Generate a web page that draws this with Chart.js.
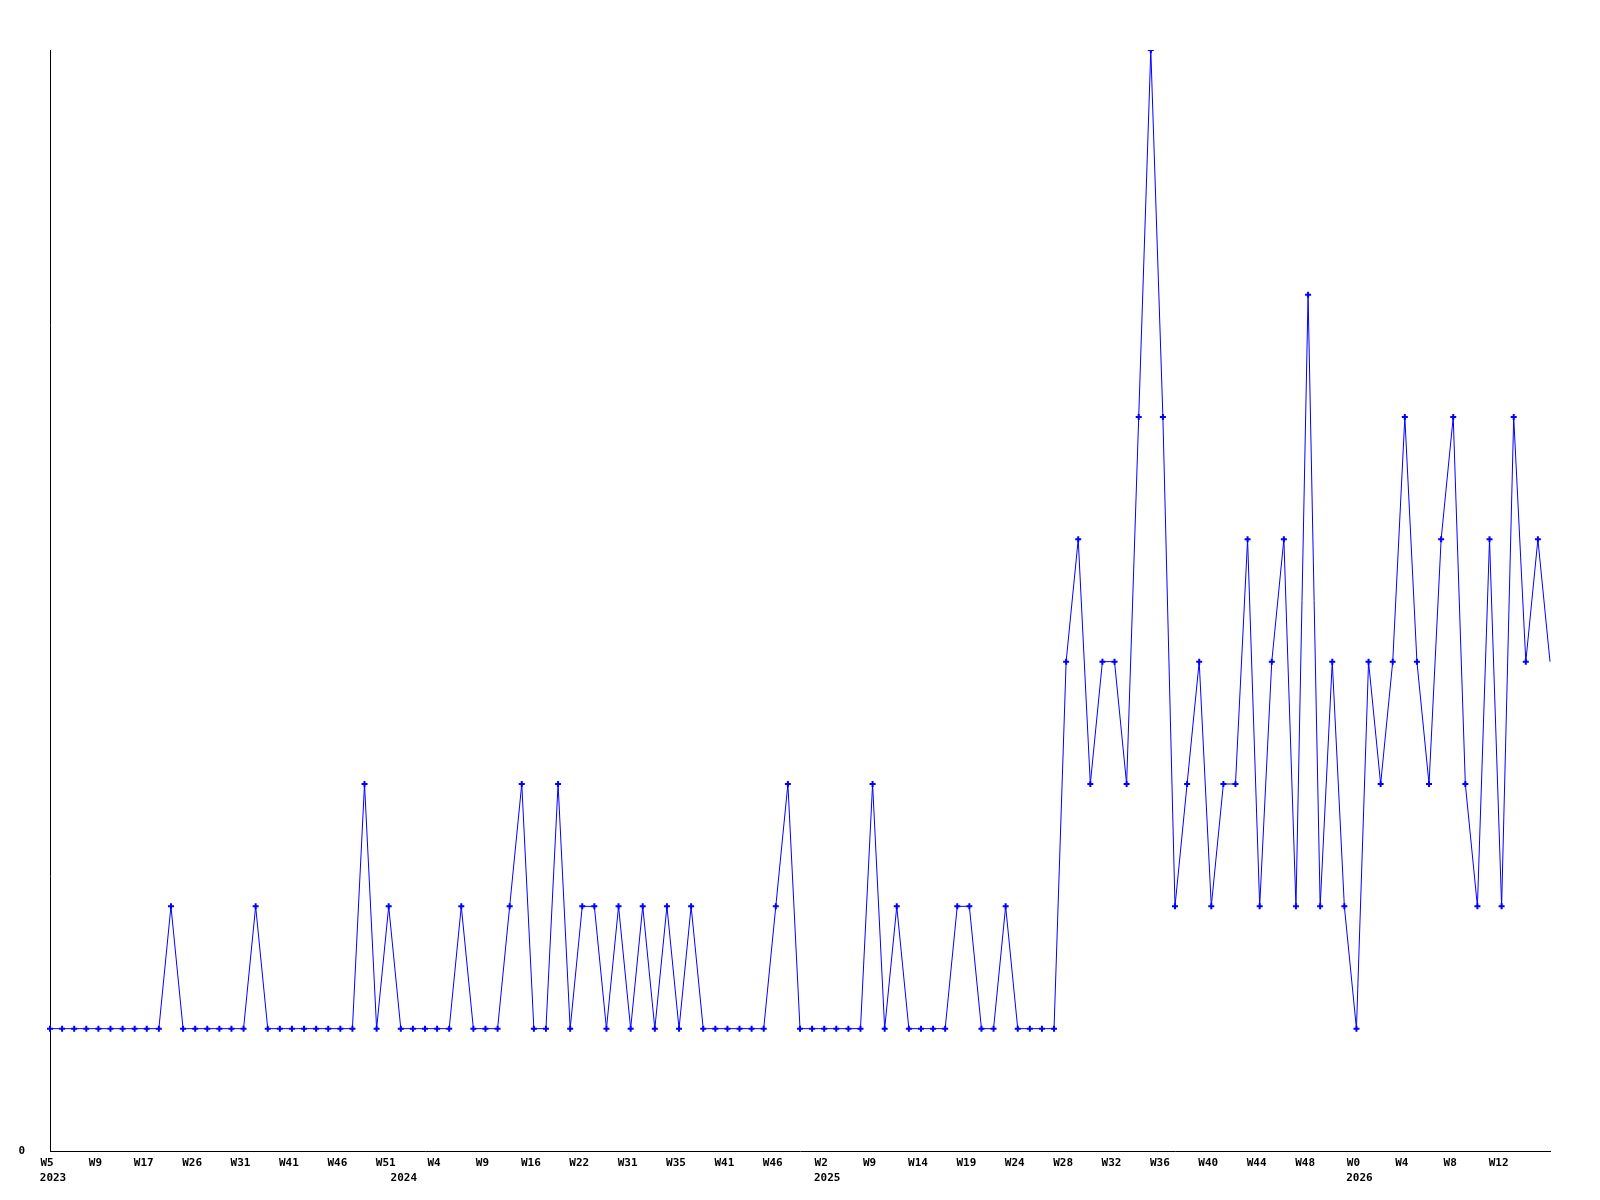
<!DOCTYPE html>
<html>
<head>
<meta charset="utf-8">
<script src="https://cdn.jsdelivr.net/npm/chart.js@4/dist/chart.umd.min.js"></script>
<style>
  html, body { margin: 0; padding: 0; background: #ffffff; }
  #wrap { width: 1600px; height: 1200px; }
</style>
</head>
<body>
<div id="wrap"><canvas id="c" width="1600" height="1200"></canvas></div>
<script>
// Week categories (only every 4th one is printed on the axis)
const weeks = [
  'W5','W6','W7','W8','W9','W11','W13','W15','W17','W19','W21','W24','W26','W27','W28','W30',
  'W31','W33','W36','W38','W41','W42','W43','W45','W46','W47','W48','W50','W51',
  'W1','W2','W3','W4','W6','W7','W8','W9','W11','W13','W14','W16','W18','W19','W21','W22',
  'W25','W27','W29','W31','W32','W33','W34','W35','W37','W38','W40','W41','W42','W44','W45',
  'W46','W48','W49','W51',
  'W2','W4','W6','W8','W9','W11','W12','W13','W14','W15','W17','W18','W19','W20','W22','W23',
  'W24','W25','W26','W27','W28','W29','W30','W31','W32','W33','W34','W35','W36','W37','W38',
  'W39','W40','W41','W42','W43','W44','W45','W46','W47','W48','W49','W50','W51',
  'W0','W1','W2','W3','W4','W5','W6','W7','W8','W9','W10','W11','W12','W13','W14','W15','W16'
];
// Index of first point of each year and the year text
const yearStartIndex = [0, 29, 64, 108];
const yearNames = ['2023', '2024', '2025', '2026'];
// Weekly counts
const counts = [
  1,1,1,1,1,1,1,1,1,1, 2, 1,1,1,1,1,1, 2, 1,1,1,1,1,1,1,1, 3, 1, 2,
  1,1,1,1,1, 2, 1,1,1, 2, 3, 1, 1, 3, 1, 2, 2, 1, 2, 1, 2, 1, 2, 1, 2,
  1,1,1,1,1,1, 2, 3, 1,1,1,1,1,1, 3, 1, 2, 1,1,1,1, 2, 2, 1, 1, 2, 1,1,1,1,
  4, 5, 3, 4, 4, 3, 6, 9, 6, 2, 3, 4, 2, 3, 3, 5, 2, 4, 5, 2, 7, 2, 4, 2, 1,
  4, 3, 4, 6, 4, 3, 5, 6, 3, 2, 5, 2, 6, 4, 5, 4
];
const yTickLabels = ['0'];
const labelEvery = 4;
const lastLabeledIndex = 120;

const tickFont = { family: 'DejaVu Sans Mono', size: 11, weight: 'bold' };

new Chart(document.getElementById('c'), {
  type: 'line',
  data: {
    labels: weeks,
    datasets: [{
      data: counts,
      borderColor: '#0000ff',
      backgroundColor: '#0000ff',
      borderWidth: 1,
      tension: 0,
      fill: false,
      pointStyle: 'cross',
      pointRadius: (ctx) => (ctx.dataIndex === counts.length - 1 ? 0 : 3),
      pointBorderWidth: 2,
      pointBorderColor: '#0000ff',
      pointHoverRadius: 3
    }]
  },
  options: {
    responsive: false,
    animation: false,
    events: [],
    layout: { padding: { top: 50, right: 50, left: 0, bottom: 0 } },
    plugins: { legend: { display: false }, tooltip: { enabled: false }, title: { display: false } },
    scales: {
      y: {
        min: 0,
        max: 9,
        afterFit: (s) => { s.width = 50; },
        grid: { display: false, drawTicks: false },
        border: { display: true, color: '#000000', width: 1 },
        ticks: {
          stepSize: 9,
          padding: 25,
          color: '#000000',
          font: tickFont,
          callback: (v) => (v === 0 ? yTickLabels[0] : '')
        }
      },
      x: {
        type: 'category',
        position: 'bottom',
        offset: false,
        afterFit: (s) => { s.height = 18; },
        grid: { display: false, drawTicks: false },
        border: { display: true, color: '#000000', width: 1 },
        ticks: {
          autoSkip: false,
          maxRotation: 0,
          minRotation: 0,
          padding: 6,
          labelOffset: -3,
          color: '#000000',
          font: tickFont,
          callback: (v, i) => (i % labelEvery === 0 && i <= lastLabeledIndex ? weeks[i] : '')
        }
      },
      x2: {
        type: 'category',
        position: 'bottom',
        offset: false,
        afterFit: (s) => { s.height = 31; },
        grid: { display: false, drawTicks: false },
        border: { display: false },
        ticks: {
          autoSkip: false,
          maxRotation: 0,
          minRotation: 0,
          padding: 3,
          labelOffset: 3,
          color: '#000000',
          font: tickFont,
          callback: (v, i) => {
            const k = yearStartIndex.indexOf(i);
            return k >= 0 ? yearNames[k] : '';
          }
        }
      }
    }
  }
});
</script>
</body>
</html>
